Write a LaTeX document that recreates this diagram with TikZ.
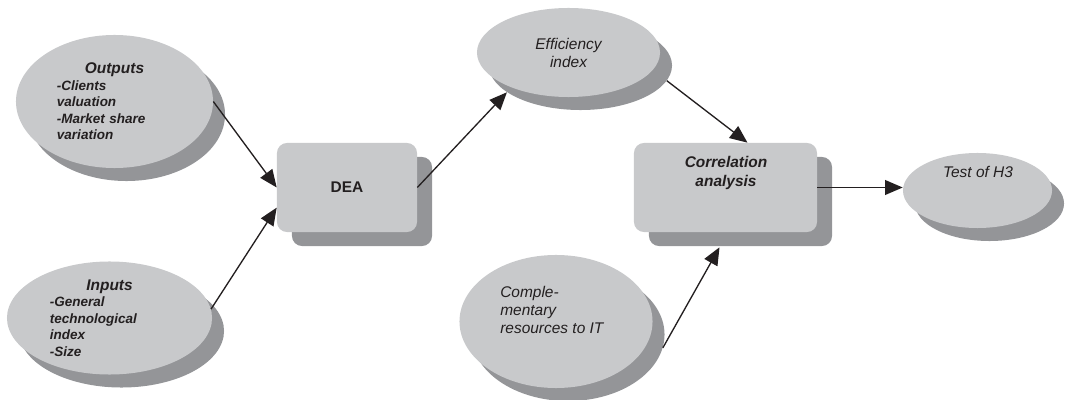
\documentclass[tikz,border=0pt]{standalone}
\usepackage{fontspec}
\setmainfont{Liberation Sans}
\usetikzlibrary{shapes.geometric, arrows.meta, calc, shadows}
\definecolor{ovalgray}{RGB}{200,201,203}
\definecolor{shadegray}{RGB}{148,149,152}
\definecolor{inkdark}{RGB}{35,31,32}
\tikzset{
  oval/.style={ellipse, fill=ovalgray, inner sep=0pt, text=inkdark,
    drop shadow={shadow xshift=0.3cm, shadow yshift=-0.325cm, fill=shadegray, opacity=1}},
  stage/.style={rectangle, rounded corners=0.25cm, fill=ovalgray, inner sep=0pt, text=inkdark,
    drop shadow={shadow xshift=0.375cm, shadow yshift=-0.35cm, fill=shadegray, opacity=1}},
  note/.style={font=\fontsize{11}{12.8}\selectfont\itshape, text=inkdark, inner sep=0pt},
  boldnote/.style={font=\fontsize{9.6}{11.7}\selectfont\bfseries\itshape, text=inkdark},
  arrow/.style={-{Triangle[length=12.5pt, width=10.5pt]}, line width=0.95pt, color=inkdark}
}

\begin{document}
\begin{tikzpicture}[x=0.025cm, y=-0.025cm]
  \useasboundingbox (0,0) rectangle (1067,400);

  % DEA inputs and outputs
  \node[oval, boldnote, minimum width=4.925cm, minimum height=3.325cm,
    text width=2.875cm, align=left] (outputs) at (114.5,101.5)
    {\makebox[\linewidth]{\fontsize{11}{13}\selectfont Outputs}\\-Clients\\valuation\\-Market share\\variation};
  \node[oval, boldnote, minimum width=5.125cm, minimum height=2.825cm,
    text width=2.975cm, align=left] (inputs) at (109.5,318)
    {\makebox[\linewidth]{\fontsize{11}{13}\selectfont Inputs}\\-General\\technological\\index\\-Size};

  % Analysis stages
  \node[stage, minimum width=3.5cm, minimum height=2.225cm,
    font=\fontsize{11}{13}\selectfont\bfseries] (dea) at (347,187.5) {DEA};
  \node[stage, minimum width=4.575cm, minimum height=2.225cm] (corr) at (725.5,187.5) {};
  \node[text=inkdark, align=center, inner sep=0pt,
    font=\fontsize{11}{14}\selectfont\bfseries\itshape] (corrtext) at (726,173) {Correlation\\analysis};

  % Results and complementary resources
  \node[oval, note, minimum width=4.575cm, minimum height=2.225cm, align=center] (eff) at (568.5,52.5) {Efficiency\\index};
  \node[oval, minimum width=4.825cm, minimum height=3.325cm] (comp) at (556,321.5) {};
  \node[note, align=left, anchor=west] (comptext) at (500,310) {Comple-\\mentary\\resources to IT};
  \node[oval, minimum width=3.725cm, minimum height=1.875cm] (test) at (977.5,190.5) {};
  \node[note] (testtext) at (978,172) {Test of H3};

  % Connectors
  \draw[arrow] (outputs.east) -- (dea.west);
  \draw[arrow] (inputs.5) -- (dea.196);
  \draw[arrow] (dea.east) -- ($(eff.200)+(12,13)$);
  \draw[arrow] ($(eff.-10)+(12,13)$) -- ($(corr.north)+(22,0)$);
  \draw[arrow] ($(comp.-8)+(12,13)$) -- ($(corr.south)+(-6,15)$);
  \draw[arrow] (corr.east) -- (corr.east -| test.west);
\end{tikzpicture}
\end{document}
